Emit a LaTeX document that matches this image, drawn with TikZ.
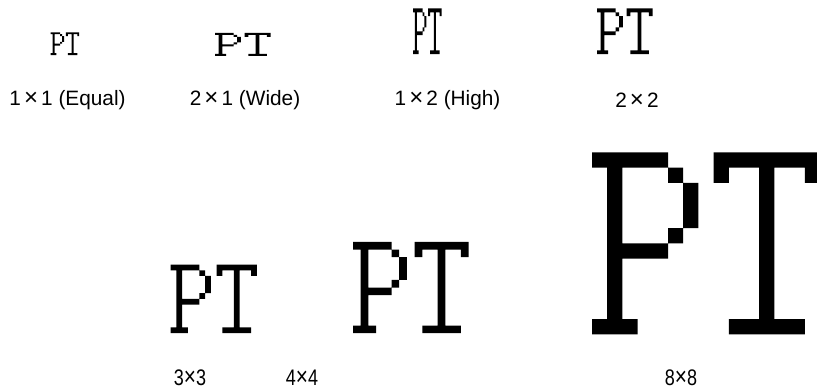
\documentclass[tikz,border=0pt]{standalone}
\usepackage{fontspec}
\setmainfont{Liberation Sans}
\newcommand\ptglyph[4]{%
  \fill foreach \pa/\pb/\pc/\pd in {0/0/5/1,1/0/2/12,5/1/6/2,6/2/7/5,5/5/6/6,1/6/5/7,0/11/3/12,8/0/15/1,8/0/9/2,14/0/15/2,11/0/12/12,9/11/14/12}
    {({#1+\pa*#3},{#2+\pb*#4}) rectangle ({#1+\pc*#3},{#2+\pd*#4})};%
}
\newcommand\tms{\kern.15em{\fontsize{24}{24}\selectfont ×}\kern.15em}
\newcommand\btms{{\fontsize{26}{24}\selectfont ×}}
\begin{document}
\begin{tikzpicture}[x=1pt,y=-1pt,
  lab/.style={inner sep=0pt, font=\fontsize{20.8}{24}\selectfont},
  blab/.style={inner sep=0pt, font=\fontsize{22.5}{24}\selectfont, xscale=0.8}]
\useasboundingbox (0,0) rectangle (817,390);
\clip (0,0) rectangle (817,390);
% glyphs
\ptglyph{50.7}{32.3}{1.9}{1.9}
\ptglyph{215}{33}{3.7}{1.9}
\ptglyph{413}{8.5}{1.9}{3.8}
\ptglyph{597}{8.5}{3.7}{3.8}
\ptglyph{170.7}{264.6}{5.75}{5.7}
\ptglyph{353}{242}{7.7}{7.6}
\ptglyph{592}{152.5}{15.2}{15.15}
% labels
\node[lab] (l11) at (67.5,100) {1\tms1 (Equal)};
\node[lab] (l21) at (245,100) {2\tms1 (Wide)};
\node[lab] (l12) at (447.5,100) {1\tms2 (High)};
\node[lab] (l22) at (637,100) {2\tms2};
\node[blab] (l33) at (190,378) {3\btms3};
\node[blab] (l44) at (302,378) {4\btms4};
\node[blab] (l88) at (681,378) {8\btms8};
\end{tikzpicture}
\end{document}
